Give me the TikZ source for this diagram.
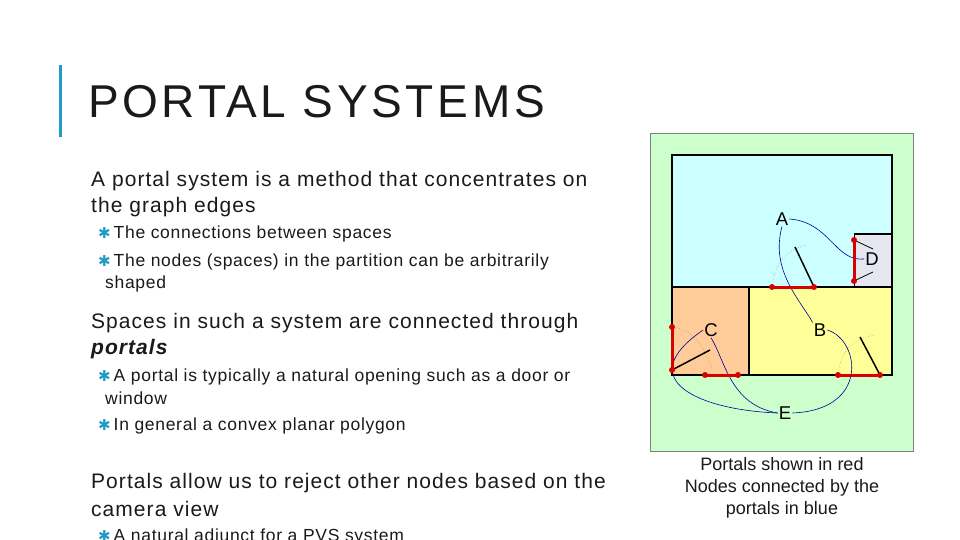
\documentclass[tikz,border=0pt]{standalone}
\usepackage{fontspec}
\setmainfont{Liberation Sans}
\newfontfamily\symf{DejaVu Sans}
\definecolor{teal1}{HTML}{1F9BC5}
\definecolor{lgreen}{HTML}{CCFFCC}
\definecolor{lcyan}{HTML}{CCFFFF}
\definecolor{lorange}{HTML}{FFCC99}
\definecolor{lyellow}{HTML}{FFFF99}
\definecolor{lgrey}{HTML}{E6E6F0}
\definecolor{txt}{HTML}{1A1A1A}
\newcommand{\bul}{{\symf\color{teal1}\fontsize{15}{15}\selectfont ✱}}
\tikzset{
 body/.style={anchor=west,inner sep=0pt,font=\fontsize{21}{25}\selectfont\addfontfeature{LetterSpace=5},text=txt},
 sub/.style={anchor=west,inner sep=0pt,font=\fontsize{17.5}{21}\selectfont\addfontfeature{LetterSpace=4},text=txt},
 portal/.style={red!85!black,line width=3pt},
 pdot/.style={circle,fill=red!85!black,inner sep=0pt,minimum size=6pt},
 conn/.style={blue!60!black,line width=0.6pt},
 door/.style={black,line width=1.5pt},
 arcd/.style={gray,dotted,line width=0.5pt},
 lab/.style={font=\fontsize{18.5}{18.5}\selectfont,inner sep=1pt}
}
\begin{document}
\begin{tikzpicture}[x=1pt,y=-1pt]
\useasboundingbox (0,0) rectangle (960,540);
\fill[white] (0,0) rectangle (960,540);
\begin{scope}
\clip (0,0) rectangle (960,540);
\fill[teal1] (59,65) rectangle (62,137);
\node[anchor=west,inner sep=0pt,font=\fontsize{46}{46}\selectfont\addfontfeature{LetterSpace=8},text=txt] (title) at (88,102) {PORTAL SYSTEMS};
\node[body] (t1) at (91,181) {A portal system is a method that concentrates on};
\node[body] (t2) at (91,207) {the graph edges};
\node[sub] (b1) at (98,234) {\bul\,The connections between spaces};
\node[sub] (b2) at (98,262) {\bul\,The nodes (spaces) in the partition can be arbitrarily};
\node[sub] (b2b) at (105,284) {shaped};
\node[body] (t3) at (91,323) {Spaces in such a system are connected through};
\node[body] (t4) at (91,349) {\textbf{\textit{portals}}};
\node[sub] (b3) at (98,377) {\bul\,A portal is typically a natural opening such as a door or};
\node[sub] (b3b) at (105,398) {window};
\node[sub] (b4) at (98,426) {\bul\,In general a convex planar polygon};
\node[body] (t5) at (91,483) {Portals allow us to reject other nodes based on the};
\node[body] (t6) at (91,509) {camera view};
\node[sub] (b5) at (98,537) {\bul\,A natural adjunct for a PVS system};
\end{scope}
% figure
\fill[lgreen] (650,133) rectangle (913,451);
\draw[gray,line width=0.5pt] (650,133) rectangle (913,451);
\fill[lcyan] (672,155) rectangle (892,287);
\fill[lgrey] (854,234) rectangle (892,287);
\fill[lorange] (672,287) rectangle (749,375);
\fill[lyellow] (749,287) rectangle (892,375);
\draw[line width=1.3pt] (672,155) rectangle (892,375);
\draw[line width=1.3pt] (672,287) -- (892,287) (749,287) -- (749,375) (854,234) -- (892,234);
\draw[line width=0.6pt] (854,234) -- (854,287);
% dotted swing arcs
\draw[arcd] (772,287) .. controls (775,260) and (790,248) .. (807,245);
\draw[arcd] (838,375) .. controls (840,350) and (855,338) .. (875,335);
\draw[arcd] (672,327) .. controls (690,328) and (705,345) .. (712,370);
% doors
\draw[door] (795,247) -- (814,287);
\draw[door] (860,337) -- (880,375);
\draw[door] (672,370) -- (710,350);
\draw[line width=0.8pt] (856,241) -- (873,249) (856,280) -- (873,272);
% labels
\node[lab] (A) at (782,219) {A};
\node[lab] (D) at (872,259) {D};
\node[lab] (C) at (711,330) {C};
\node[lab] (B) at (820,330) {B};
\node[lab] (E) at (785,413) {E};
% connectors
\draw[conn] (A.east) .. controls (830,222) and (835,262) .. (D.west);
\draw[conn] (A.south) .. controls (770,270) and (800,300) .. (B.north west);
\draw[conn] (B.east) .. controls (860,340) and (870,410) .. (E.east);
\draw[conn] (E.west) .. controls (700,410) and (630,380) .. (C.west);
\draw[conn] (E.west) .. controls (730,405) and (725,360) .. (C.south);
% portals
\draw[portal] (772,287) node[pdot]{} -- (814,287) node[pdot]{};
\draw[portal] (854,240) node[pdot]{} -- (854,281) node[pdot]{};
\draw[portal] (672,327) node[pdot]{} -- (672,370) node[pdot]{};
\draw[portal] (705,375) node[pdot]{} -- (738,375) node[pdot]{};
\draw[portal] (838,375) node[pdot]{} -- (880,375) node[pdot]{};
\node[font=\fontsize{18}{22}\selectfont,align=center,text=txt] (cap) at (782,488) {Portals shown in red\\Nodes connected by the\\portals in blue};
\end{tikzpicture}
\end{document}
